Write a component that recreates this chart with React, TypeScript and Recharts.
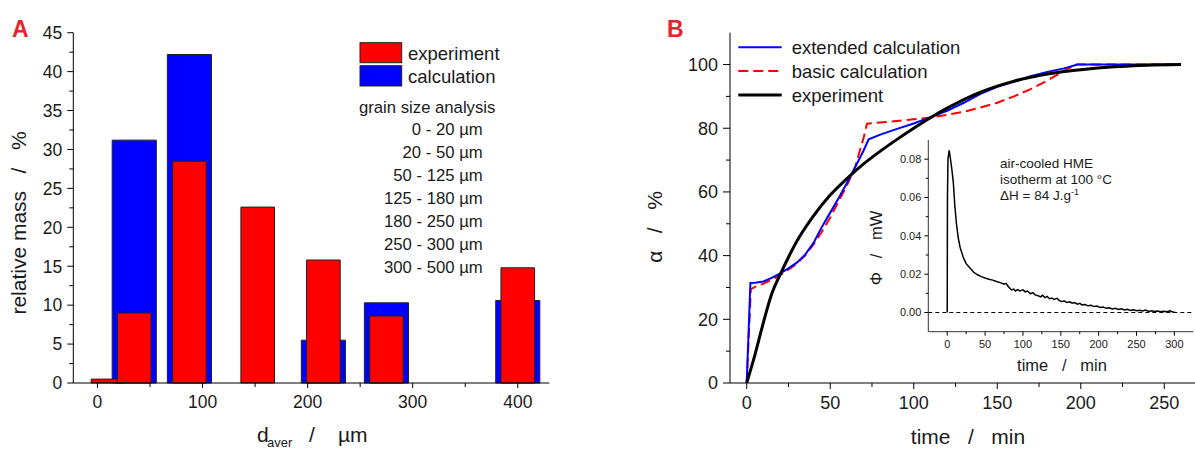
import React from 'react';
import {
  ComposedChart, LineChart, Line, XAxis, YAxis, ReferenceArea, ReferenceLine, Legend,
} from 'recharts';

// ---- panel A: grain size distribution ----
const sizeBins = ['0 - 20 µm', '20 - 50 µm', '50 - 125 µm', '125 - 180 µm', '180 - 250 µm', '250 - 300 µm', '300 - 500 µm'];
const binCenter = [10, 35, 87.5, 152.5, 215, 275, 400];
const expMass = [0.5, 9, 28.5, 22.6, 15.8, 8.6, 14.8];
const calcMass: (number | null)[] = [null, 31.2, 42.2, null, 5.5, 10.3, 10.6];
const massTicks = [0, 2.5, 5, 7.5, 10, 12.5, 15, 17.5, 20, 22.5, 25, 27.5, 30, 32.5, 35, 37.5, 40, 42.5, 45];
const sizeTicks = [0, 50, 100, 150, 200, 250, 300, 350, 400];

// ---- panel B: conversion vs time ----
const extTime = [0, 2.2, 5, 10, 15, 20, 25, 30, 35, 40, 45, 50, 55, 60, 65, 70, 73, 80, 90, 100, 110, 120, 130, 140, 150, 160, 170, 180, 190, 198, 260];
const extAlpha = [0, 31.4, 31.5, 31.9, 33, 34.4, 36, 37.8, 40.3, 44, 49, 53.5, 58, 62.8, 67.8, 73, 76.5, 78, 79.8, 81.5, 83.5, 85.5, 88, 90.8, 93, 94.6, 96.3, 97.7, 98.8, 100, 100];
const basicTime = [0, 2.5, 5, 10, 15, 20, 25, 30, 35, 40, 45, 50, 55, 60, 65, 70, 72, 80, 90, 100, 110, 120, 130, 140, 150, 160, 170, 180, 190, 197, 260];
const basicAlpha = [0, 29.5, 30.2, 31.2, 32.4, 33.9, 35.6, 37.5, 40, 43.5, 47.5, 52, 57, 62, 68, 77, 81.4, 81.8, 82.3, 82.8, 83.4, 84.2, 85.2, 86.5, 88, 90, 92.3, 95, 98, 100, 100];
const expTime = [0, 5, 10, 15, 20, 25, 30, 40, 50, 60, 70, 80, 90, 100, 110, 120, 130, 140, 150, 160, 170, 180, 190, 200, 220, 240, 260];
const expAlpha = [0, 9, 19, 28, 34, 39.5, 44.5, 52.5, 59, 64.2, 68.8, 72.8, 76.5, 80, 83.3, 86.3, 89, 91.3, 93.2, 94.8, 96, 97, 97.8, 98.4, 99.3, 99.8, 100];
const timeTicks = [0, 25, 50, 75, 100, 125, 150, 175, 200, 225, 250];
const alphaTicks = [0, 10, 20, 30, 40, 50, 60, 70, 80, 90, 100];

// ---- inset: heat flow ----
const phiTime = [0, 0.3, 1, 2.6, 4, 6, 8, 10, 12, 14.5, 17, 21, 25, 30, 35, 40, 45, 50, 55, 60, 65, 70, 75, 78, 80, 83, 85, 88, 90, 93, 96, 100, 103, 106, 110, 113, 116, 120, 123, 126, 129, 132, 135, 138, 141, 145, 148, 151, 155, 158, 162, 165, 168, 172, 175, 178, 182, 186, 190, 194, 198, 202, 206, 210, 214, 218, 222, 226, 230, 234, 238, 242, 246, 250, 254, 258, 262, 266, 270, 274, 278, 282, 286, 290, 294, 298, 301];
const phiValue = [0, 0.06, 0.08, 0.0846, 0.081, 0.075, 0.068, 0.056, 0.047, 0.039, 0.034, 0.029, 0.0255, 0.0232, 0.021, 0.0197, 0.0187, 0.018, 0.0174, 0.0169, 0.0162, 0.0156, 0.0148, 0.0152, 0.0138, 0.0125, 0.0118, 0.0122, 0.0112, 0.012, 0.0113, 0.0118, 0.0108, 0.0112, 0.0098, 0.0104, 0.0092, 0.0088, 0.0082, 0.009, 0.0078, 0.0084, 0.0072, 0.0076, 0.0068, 0.0074, 0.0062, 0.0058, 0.006, 0.0052, 0.0056, 0.0049, 0.0052, 0.0044, 0.0048, 0.004, 0.0042, 0.0035, 0.0038, 0.0031, 0.0034, 0.0026, 0.0029, 0.0022, 0.0025, 0.0019, 0.0022, 0.0016, 0.002, 0.0013, 0.0017, 0.0011, 0.0014, 0.0009, 0.0012, 0.0008, 0.0013, 0.0006, 0.0009, 0.0005, 0.0008, 0.0004, 0.0007, 0.0004, 0.0009, 0.0003, 0.0001];
const phiTicks = [0, 0.01, 0.02, 0.03, 0.04, 0.05, 0.06, 0.07, 0.08];
const insetTimeTicks = [0, 25, 50, 75, 100, 125, 150, 175, 200, 225, 250, 275, 300];

const massRows = binCenter.map((d, i) => ({ d, exp: expMass[i], calc: calcMass[i] }));
const extRows = extTime.map((t, i) => ({ t, a: extAlpha[i] }));
const basicRows = basicTime.map((t, i) => ({ t, a: basicAlpha[i] }));
const expRows = expTime.map((t, i) => ({ t, a: expAlpha[i] }));
const phiRows = phiTime.map((t, i) => ({ t, phi: phiValue[i] }));

const EXP_HALF = 16;
const CALC_HALF = 21;
const RED = '#ff0000';
const BLUE = '#0000ff';
const INK = '#1a1a1a';
const FONT = "'Liberation Sans', Arial, sans-serif";

type TickOpts = { major: (v: number) => boolean; fmt: (v: number) => string; size: number; long: number; short: number; gap: number };

const leftTick = (o: TickOpts) => (p: any) => {
  const v = p.payload.value;
  const m = o.major(v);
  return (
    <g>
      <line x1={p.x - (m ? o.long : o.short)} x2={p.x} y1={p.y} y2={p.y} stroke="#000" strokeWidth={1} />
      {m && (
        <text x={p.x - o.long - o.gap} y={p.y} dy="0.36em" textAnchor="end" fontSize={o.size} fill={INK}>
          {o.fmt(v)}
        </text>
      )}
    </g>
  );
};

const bottomTick = (o: TickOpts) => (p: any) => {
  const v = p.payload.value;
  const m = o.major(v);
  return (
    <g>
      <line x1={p.x} x2={p.x} y1={p.y} y2={p.y + (m ? o.long : o.short)} stroke="#000" strokeWidth={1} />
      {m && (
        <text x={p.x} y={p.y + o.long + o.gap} dy="0.85em" textAnchor="middle" fontSize={o.size} fill={INK}>
          {o.fmt(v)}
        </text>
      )}
    </g>
  );
};

const massTick = leftTick({ major: (v) => v % 5 === 0, fmt: String, size: 17.5, long: 6, short: 4, gap: 5 });
const sizeTick = bottomTick({ major: (v) => v % 100 === 0, fmt: String, size: 17.5, long: 5, short: 4, gap: 5 });
const alphaTick = leftTick({ major: (v) => v % 20 === 0, fmt: String, size: 18, long: 7, short: 4, gap: 5 });
const timeTick = bottomTick({ major: (v) => v % 50 === 0, fmt: String, size: 18, long: 6, short: 4, gap: 5 });
const phiTick = leftTick({ major: (v) => Math.round(v * 100) % 2 === 0, fmt: (v) => v.toFixed(2), size: 11, long: 4, short: 2.5, gap: 3 });
const insetTick = bottomTick({ major: (v) => v % 50 === 0, fmt: String, size: 11, long: 4, short: 2.5, gap: 3 });

const LegendA = () => (
  <svg width={200} height={245} style={{ overflow: 'visible', fontFamily: FONT }}>
    <rect x={5} y={4.7} width={41.7} height={20} fill={RED} stroke="#222" />
    <rect x={5} y={27.7} width={41.7} height={20.3} fill={BLUE} stroke="#222" />
    <text x={53} y={15} dy="0.36em" fontSize={18.5} fill={INK}>experiment</text>
    <text x={53} y={38} dy="0.36em" fontSize={18.5} fill={INK}>calculation</text>
    <text x={4} y={68.7} dy="0.36em" fontSize={16.7} fill={INK}>grain size analysis</text>
    {sizeBins.map((s, i) => (
      <text key={s} x={127.7} y={90.5 + i * 23.1} dy="0.36em" textAnchor="end" fontSize={16.7} fill={INK}>{s}</text>
    ))}
  </svg>
);

const LegendB = () => (
  <svg width={300} height={80} style={{ overflow: 'visible', fontFamily: FONT }}>
    <line x1={8.3} x2={51.7} y1={17.3} y2={17.3} stroke={BLUE} strokeWidth={2} />
    <line x1={8.3} x2={51.7} y1={41} y2={41} stroke={RED} strokeWidth={2} strokeDasharray="10 5" />
    <line x1={8.3} x2={51.7} y1={65} y2={65} stroke="#000" strokeWidth={3} />
    <text x={61.7} y={17.3} dy="0.36em" fontSize={18.5} fill={INK}>extended calculation</text>
    <text x={61.7} y={41} dy="0.36em" fontSize={18.5} fill={INK}>basic calculation</text>
    <text x={61.7} y={65} dy="0.36em" fontSize={18.5} fill={INK}>experiment</text>
  </svg>
);

export default function App() {
  return (
    <div style={{ position: 'absolute', left: 0, top: 0, width: 1195, height: 453, overflow: 'hidden', background: '#fff', fontFamily: FONT }}>
      {/* panel A */}
      <div style={{ position: 'absolute', left: 0, top: 0 }}>
        <ComposedChart width={560} height={453} data={massRows} margin={{ top: 32.7, right: 10.7, bottom: 0, left: 0 }}>
          <XAxis type="number" dataKey="d" domain={[-23, 430]} ticks={sizeTicks} interval={0} allowDataOverflow
            height={70} tickSize={0} tickMargin={0} tickLine={false} tick={sizeTick} axisLine={{ stroke: '#000' }} />
          <XAxis xAxisId="top" orientation="top" type="number" domain={[-23, 430]} allowDataOverflow
            height={0} tick={false} tickLine={false} axisLine={{ stroke: '#000' }} />
          <YAxis type="number" domain={[0, 45]} ticks={massTicks} interval={0} allowDataOverflow
            width={73.3} tickSize={0} tickMargin={0} tickLine={false} tick={massTick} axisLine={{ stroke: '#000' }} />
          <YAxis yAxisId="right" orientation="right" type="number" domain={[0, 45]} allowDataOverflow
            width={0} tick={false} tickLine={false} axisLine={{ stroke: '#000' }} />
          {massRows.filter((r) => r.calc != null).map((r) => (
            <ReferenceArea key={'c' + r.d} x1={r.d - CALC_HALF} x2={r.d + CALC_HALF} y1={0} y2={r.calc as number}
              fill={BLUE} fillOpacity={1} stroke="#222" strokeWidth={1} ifOverflow="visible" />
          ))}
          {massRows.map((r) => (
            <ReferenceArea key={'e' + r.d} x1={r.d - EXP_HALF} x2={r.d + EXP_HALF} y1={0} y2={r.exp}
              fill={RED} fillOpacity={1} stroke="#222" strokeWidth={1} ifOverflow="visible" />
          ))}
          <Legend layout="vertical" align="center" verticalAlign="middle" content={() => <LegendA />}
            wrapperStyle={{ left: 355, top: 38, width: 200, height: 245 }} />
        </ComposedChart>
      </div>

      {/* panel B */}
      <div style={{ position: 'absolute', left: 600, top: 0 }}>
        <ComposedChart width={640} height={453} margin={{ top: 32.7, right: 42.3, bottom: 0, left: 70 }}>
          <XAxis type="number" dataKey="t" domain={[-10, 270]} ticks={timeTicks} interval={0} allowDataOverflow
            height={70} tickSize={0} tickMargin={0} tickLine={false} tick={timeTick} axisLine={{ stroke: '#000' }} />
          <XAxis xAxisId="top" orientation="top" type="number" domain={[-10, 270]} allowDataOverflow
            height={0} tick={false} tickLine={false} axisLine={{ stroke: '#000' }} />
          <YAxis type="number" domain={[0, 110]} ticks={alphaTicks} interval={0} allowDataOverflow
            width={60} tickSize={0} tickMargin={0} tickLine={false} tick={alphaTick} axisLine={{ stroke: '#000' }} />
          <YAxis yAxisId="right" orientation="right" type="number" domain={[0, 110]} allowDataOverflow
            width={0} tick={false} tickLine={false} axisLine={{ stroke: '#000' }} />
          <Line data={basicRows} dataKey="a" type="linear" stroke={RED} strokeWidth={2} strokeDasharray="10 5"
            dot={false} activeDot={false} isAnimationActive={false} />
          <Line data={extRows} dataKey="a" type="linear" stroke={BLUE} strokeWidth={2}
            dot={false} activeDot={false} isAnimationActive={false} />
          <Line data={expRows} dataKey="a" type="monotone" stroke="#000" strokeWidth={3}
            dot={false} activeDot={false} isAnimationActive={false} />
          <Legend layout="vertical" align="center" verticalAlign="middle" content={() => <LegendB />}
            wrapperStyle={{ left: 130, top: 30, width: 300, height: 80 }} />
        </ComposedChart>
      </div>

      {/* inset */}
      <div style={{ position: 'absolute', left: 860, top: 120 }}>
        <LineChart width={340} height={260} data={phiRows} margin={{ top: 20, right: 6.7, bottom: 0, left: 18.3 }}>
          <XAxis type="number" dataKey="t" domain={[-25, 325]} ticks={insetTimeTicks} interval={0} allowDataOverflow
            height={48.3} tickSize={0} tickMargin={0} tickLine={false} tick={insetTick} axisLine={{ stroke: '#333' }} />
          <XAxis xAxisId="top" orientation="top" type="number" domain={[-25, 325]} allowDataOverflow
            height={0} tick={false} tickLine={false} axisLine={{ stroke: '#333' }} />
          <YAxis type="number" domain={[-0.01, 0.09]} ticks={phiTicks} interval={0} allowDataOverflow
            width={50} tickSize={0} tickMargin={0} tickLine={false} tick={phiTick} axisLine={{ stroke: '#333' }} />
          <YAxis yAxisId="right" orientation="right" type="number" domain={[-0.01, 0.09]} allowDataOverflow
            width={0} tick={false} tickLine={false} axisLine={{ stroke: '#333' }} />
          <ReferenceLine y={0} stroke="#000" strokeWidth={1} strokeDasharray="4 3" />
          <Line dataKey="phi" type="linear" stroke="#000" strokeWidth={1.5} dot={false} activeDot={false}
            isAnimationActive={false} />
        </LineChart>
      </div>

      {/* panel letters, axis titles and inset note */}
      <svg width={1195} height={453} style={{ position: 'absolute', left: 0, top: 0, pointerEvents: 'none', fontFamily: FONT }}>
        <text x={12} y={37} fontSize={23} fontWeight="bold" fill="#e8232a">A</text>
        <text x={667} y={37} fontSize={23} fontWeight="bold" fill="#e8232a">B</text>

        <text transform="translate(26,223) rotate(-90)" textAnchor="middle" fontSize={21} fill={INK} style={{ whiteSpace: 'pre' }}>
          {'relative mass   /   %'}
        </text>
        <text y={442} fontSize={21} fill={INK}>
          <tspan x={257}>d</tspan>
          <tspan x={267} dy={5} fontSize={13}>aver</tspan>
          <tspan x={309} dy={-5}>/</tspan>
          <tspan x={338}>µm</tspan>
        </text>

        <text transform="translate(661.5,227) rotate(-90)" textAnchor="middle" fontSize={21} fill={INK} style={{ whiteSpace: 'pre' }}>
          {'α   /   %'}
        </text>
        <text x={968} y={444} textAnchor="middle" fontSize={21} fill={INK} style={{ whiteSpace: 'pre' }}>
          {'time   /   min'}
        </text>

        <text transform="translate(881.5,248) rotate(-90)" textAnchor="middle" fontSize={16.5} fill={INK} style={{ whiteSpace: 'pre' }}>
          {'Φ   /   mW'}
        </text>
        <text x={1062} y={371} textAnchor="middle" fontSize={16.5} fill={INK} style={{ whiteSpace: 'pre' }}>
          {'time   /   min'}
        </text>

        <text x={1000} y={168} fontSize={13.5} fill={INK}>air-cooled HME</text>
        <text x={1000} y={184} fontSize={13.5} fill={INK}>isotherm at 100 °C</text>
        <text x={1000} y={200} fontSize={13.5} fill={INK}>
          ΔH = 84 J.g<tspan dy={-5} fontSize={9}>-1</tspan>
        </text>
      </svg>
    </div>
  );
}
